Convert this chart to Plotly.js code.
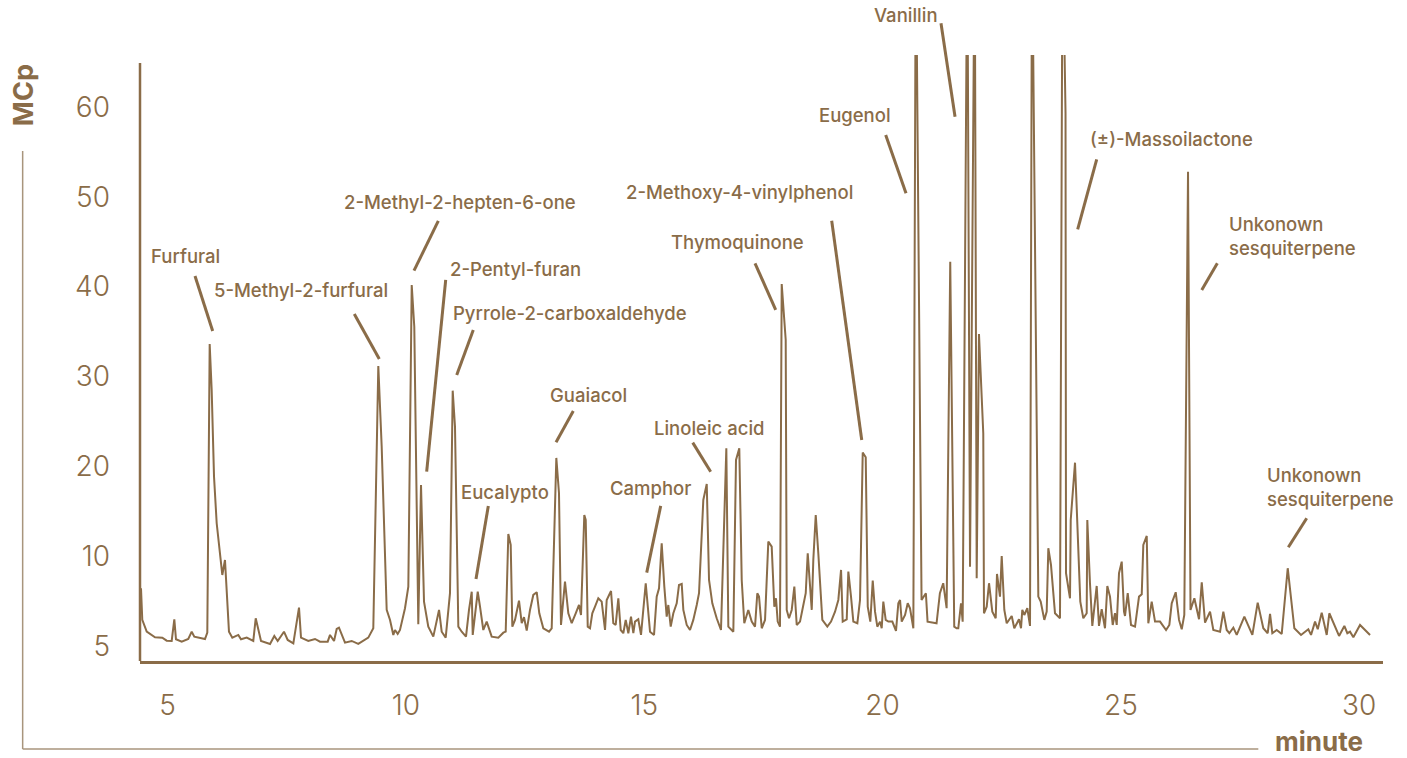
<!DOCTYPE html>
<html>
<head>
<meta charset="utf-8">
<script src="https://cdn.plot.ly/plotly-3.0.1.min.js"></script>
<style>html,body{margin:0;padding:0;background:#fff;}#chart{width:1407px;height:758px;}</style>
</head>
<body>
<div id="chart"></div>
<script>
// Retention time (minutes)
const minutes = [
4.441,4.468,4.561,4.735,4.888,4.980,5.085,5.140,5.175,5.295,5.433,5.505,5.559,5.679,5.784,5.832,5.882,5.924,5.973,6.029,
6.147,6.203,6.287,6.357,6.483,6.539,6.659,6.797,6.848,6.959,7.148,7.238,7.309,7.441,7.519,7.637,7.756,7.798,7.951,8.092,
8.197,8.358,8.407,8.491,8.547,8.595,8.686,8.721,8.862,9.000,9.210,9.315,9.420,9.491,9.596,9.666,9.735,9.770,9.827,9.875,
9.980,10.050,10.121,10.175,10.259,10.316,10.379,10.469,10.574,10.694,10.750,10.834,10.924,10.981,11.029,11.099,11.170,11.260,11.323,11.380,
11.401,11.449,11.506,11.554,11.623,11.694,11.799,11.938,12.043,12.093,12.148,12.198,12.232,12.288,12.372,12.429,12.477,12.534,12.603,12.672,
12.744,12.798,12.882,13.002,13.058,13.155,13.211,13.253,13.337,13.407,13.478,13.562,13.631,13.673,13.742,13.772,13.814,13.862,13.910,13.967,
14.036,14.107,14.177,14.212,14.246,14.303,14.351,14.401,14.456,14.506,14.561,14.611,14.666,14.722,14.771,14.806,14.875,14.932,15.031,15.121,
15.205,15.261,15.310,15.366,15.421,15.471,15.505,15.555,15.610,15.681,15.729,15.786,15.820,15.891,15.960,16.029,16.101,16.149,16.239,16.311,
16.359,16.428,16.520,16.610,16.722,16.764,16.869,16.925,16.994,17.045,17.099,17.183,17.255,17.324,17.372,17.408,17.465,17.534,17.603,17.674,
17.729,17.764,17.800,17.848,17.884,17.968,17.989,18.037,18.094,18.149,18.199,18.268,18.317,18.388,18.430,18.478,18.514,18.547,18.598,18.652,
18.736,18.841,18.919,19.003,19.072,19.129,19.164,19.248,19.282,19.338,19.387,19.471,19.527,19.584,19.647,19.689,19.743,19.794,19.842,19.890,
19.947,19.982,20.016,20.066,20.121,20.205,20.282,20.331,20.367,20.402,20.472,20.528,20.576,20.646,20.698,20.818,20.873,20.909,20.944,21.028,
21.133,21.203,21.273,21.344,21.420,21.504,21.554,21.589,21.646,21.681,21.778,21.835,21.933,21.975,22.023,22.113,22.128,22.185,22.234,22.303,
22.374,22.401,22.464,22.500,22.555,22.605,22.710,22.764,22.863,22.905,22.932,22.974,23.037,23.094,23.136,23.268,23.318,23.394,23.444,23.478,
23.534,23.618,23.723,23.776,23.839,23.849,23.933,23.948,24.038,24.149,24.212,24.283,24.296,24.352,24.401,24.493,24.541,24.598,24.667,24.716,
24.772,24.829,24.877,24.913,24.961,25.018,25.066,25.087,25.144,25.213,25.297,25.381,25.438,25.471,25.543,25.576,25.647,25.717,25.822,25.948,
26.017,26.067,26.151,26.220,26.277,26.331,26.377,26.409,26.440,26.461,26.542,26.640,26.697,26.766,26.871,26.940,27.081,27.150,27.221,27.276,
27.360,27.431,27.591,27.759,27.871,27.989,28.081,28.130,28.178,28.270,28.375,28.501,28.640,28.780,28.933,28.990,29.074,29.131,29.214,29.319,
29.374,29.578,29.689,29.752,29.808,29.878,30.018,30.228
];
// Detector signal (MCp); off-scale peaks are clipped by the axis range
const signal = [
6.45,2.93,1.62,1.00,0.96,0.62,0.59,3.00,0.78,0.51,0.81,1.62,1.07,0.89,0.81,1.51,33.63,28.51,18.87,13.68,
7.93,9.60,1.62,0.96,1.26,0.78,0.96,0.59,3.11,0.59,0.26,1.15,0.59,1.62,0.70,0.33,4.29,0.96,0.59,0.81,
0.51,0.51,1.26,0.59,1.92,2.07,0.70,0.40,0.59,0.26,0.96,2.00,31.18,22.20,4.04,2.93,1.26,1.81,1.37,1.81,
4.23,6.63,40.19,35.55,2.45,17.94,4.96,2.18,1.07,4.04,1.62,0.96,5.90,28.43,24.43,2.18,1.62,1.07,4.04,6.07,
1.26,3.67,6.07,4.40,1.81,2.74,1.07,0.96,1.51,1.62,12.49,11.27,2.18,2.93,5.07,2.56,3.23,1.74,4.04,5.71,
6.01,3.67,2.00,1.62,2.00,20.95,17.02,2.37,7.19,3.67,2.56,3.67,4.59,3.48,14.60,14.05,2.18,2.00,3.67,4.40,
5.34,4.96,1.81,5.15,5.52,6.15,2.56,2.37,5.34,1.81,1.45,2.93,1.45,3.29,1.45,2.74,3.00,1.26,7.01,1.62,
1.26,5.52,6.45,11.46,6.63,3.29,4.59,2.18,3.67,4.78,6.82,6.93,4.04,2.37,1.81,2.93,4.59,5.90,16.27,18.05,
7.37,4.78,3.11,1.81,22.02,2.18,1.62,20.72,22.02,7.37,2.56,4.04,2.74,2.18,5.90,5.52,2.00,2.93,11.64,11.08,
4.40,5.34,2.74,2.18,40.30,34.07,4.04,3.11,4.04,6.63,2.37,2.74,4.04,5.90,10.34,5.90,4.04,9.60,14.60,10.34,
2.93,2.18,2.74,3.85,5.15,8.49,2.74,3.00,8.30,5.52,2.74,2.56,5.15,21.54,21.02,4.40,2.74,7.30,3.85,2.18,
2.74,2.00,4.96,2.93,2.74,2.74,1.70,4.78,5.15,2.74,3.48,4.78,4.23,2.00,80.0,5.15,5.71,5.90,2.74,2.63,
2.56,5.90,7.01,4.23,42.78,2.18,2.00,2.00,4.78,2.74,80.0,8.85,80.0,7.56,34.74,23.69,3.67,4.40,7.01,3.85,
3.11,8.04,5.52,10.04,4.04,2.56,3.37,2.00,3.00,2.00,4.04,3.48,4.23,2.26,80.0,5.52,4.96,2.93,3.85,10.90,
9.04,3.67,3.11,80.0,59.29,8.12,5.34,14.05,20.42,4.96,3.11,3.67,14.05,7.01,2.26,6.71,2.26,4.12,2.00,6.71,
5.52,2.37,3.67,2.37,8.12,9.41,3.85,3.37,5.90,2.37,2.18,5.52,5.78,11.27,12.27,2.56,4.96,2.74,2.74,1.81,
2.37,4.78,6.01,2.93,1.89,3.48,36.30,52.79,24.06,4.04,5.34,3.00,7.12,2.63,3.85,1.81,1.62,3.85,1.81,1.45,
2.07,1.26,3.29,1.26,4.85,2.00,1.45,3.59,1.45,1.81,1.37,8.68,2.00,1.26,1.89,1.26,2.74,1.89,3.74,1.26,
3.67,1.15,2.26,1.45,1.62,1.00,2.37,1.26
];
// Axis ticks
const xTickVals = [5, 10, 15, 20, 25, 30];
const yTickVals = [0, 10, 20, 30, 40, 50, 60];
const yTickText = ['5', '10', '20', '30', '40', '50', '60'];
// Compound labels: text, label anchor (time, signal), leader line from/to (time, signal)
const labelNames = ['Furfural', '5-Methyl-2-furfural', '2-Methyl-2-hepten-6-one', '2-Pentyl-furan',
  'Pyrrole-2-carboxaldehyde', 'Eucalypto', 'Guaiacol', 'Camphor', 'Linoleic acid', 'Thymoquinone',
  '2-Methoxy-4-vinylphenol', 'Eugenol', '(±)-Massoilactone', 'Unkonown<br>sesquiterpene', 'Unkonown<br>sesquiterpene'];
const labelX = [4.60, 5.93, 8.66, 10.88, 10.94, 11.11, 12.98, 14.24, 15.16, 15.52, 14.575, 18.625, 24.31, 27.22, 28.025];
const labelY = [43.42, 39.63, 49.42, 41.97, 37.07, 17.16, 27.95, 17.61, 24.28, 44.97, 50.53, 59.10, 56.45, 45.64, 17.72];
const leadX0 = [5.574, 8.916, 10.679, 10.834, 11.413, 11.728, 13.511, 15.345, 16.017, 17.324, 18.933, 20.066, 24.493, 27.024, 28.899];
const leadY0 = [41.19, 36.96, 47.31, 40.75, 35.18, 15.61, 26.17, 15.61, 22.65, 42.60, 47.34, 56.87, 54.17, 42.60, 14.24];
const leadX1 = [5.945, 9.441, 10.169, 10.435, 11.065, 11.470, 13.149, 15.052, 16.394, 17.758, 19.563, 20.492, 24.094, 26.697, 28.513];
const leadY1 = [35.07, 31.96, 41.78, 19.42, 30.18, 7.49, 22.69, 8.19, 19.42, 37.41, 22.95, 50.39, 46.38, 39.63, 11.01];
// Vanillin label sits above the plot top, so it is placed in paper units
const vanillinLabel = {text: 'Vanillin', x: 0.5885, y: 1.066, lx0: 0.6444, ly0: 1.0523, lx1: 0.6557, ly1: 0.8982};

const BROWN = '#8a6c48';
const LIGHT = '#a8957c';
const FONT = 'Inter, "Noto Sans", sans-serif';
const LABEL_SIZE = 18.5;

const annotations = labelNames.map((t, i) => ({
  text: t, x: labelX[i], y: labelY[i], xref: 'x', yref: 'y',
  xanchor: 'left', yanchor: 'middle', align: 'left', showarrow: false,
  font: {family: FONT, size: LABEL_SIZE, color: BROWN, weight: 500}
}));
annotations.push({
  text: vanillinLabel.text, x: vanillinLabel.x, y: vanillinLabel.y, xref: 'paper', yref: 'paper',
  xanchor: 'left', yanchor: 'middle', showarrow: false,
  font: {family: FONT, size: LABEL_SIZE, color: BROWN, weight: 500}
});
annotations.push({
  text: 'MCp', x: -0.0937, y: 0.933, xref: 'paper', yref: 'paper', textangle: -90,
  xanchor: 'center', yanchor: 'middle', showarrow: false,
  font: {family: FONT, size: 27, color: BROWN, weight: 700}
});
annotations.push({
  text: 'minute', x: 0.9489, y: -0.16, xref: 'paper', yref: 'paper',
  xanchor: 'center', yanchor: 'bottom', showarrow: false, borderpad: 0,
  font: {family: FONT, size: 26, color: BROWN, weight: 700}
});

const shapes = labelNames.map((t, i) => ({
  type: 'line', xref: 'x', yref: 'y',
  x0: leadX0[i], y0: leadY0[i], x1: leadX1[i], y1: leadY1[i],
  line: {color: BROWN, width: 3}
}));
shapes.push({type: 'line', xref: 'paper', yref: 'paper',
  x0: vanillinLabel.lx0, y0: vanillinLabel.ly0, x1: vanillinLabel.lx1, y1: vanillinLabel.ly1,
  line: {color: BROWN, width: 3}});
// y axis line (shorter than plot area)
shapes.push({type: 'line', xref: 'paper', yref: 'paper', x0: 0, x1: 0, y0: 0, y1: 0.9868,
  line: {color: BROWN, width: 2.5}});
// outer decorative frame lines
shapes.push({type: 'line', xref: 'paper', yref: 'paper', x0: -0.0944, x1: -0.0944, y0: -0.1452, y1: 0.8416,
  line: {color: LIGHT, width: 1.5}});
shapes.push({type: 'line', xref: 'paper', yref: 'paper', x0: -0.0944, x1: 0.8997, y0: -0.1452, y1: -0.1452,
  line: {color: LIGHT, width: 1.5}});

const trace = {
  x: minutes, y: signal, type: 'scatter', mode: 'lines',
  line: {color: BROWN, width: 2}, hoverinfo: 'x+y'
};

const layout = {
  width: 1407, height: 758,
  margin: {l: 140, r: 24, t: 55, b: 97},
  paper_bgcolor: '#ffffff', plot_bgcolor: '#ffffff',
  showlegend: false,
  font: {family: FONT, color: BROWN},
  xaxis: {
    range: [4.42, 30.5], tickvals: xTickVals, showgrid: false, zeroline: false,
    showline: true, linecolor: BROWN, linewidth: 2.5, ticks: '', ticklabelstandoff: 18,
    tickfont: {family: FONT, size: 28, color: BROWN, weight: 300}
  },
  yaxis: {
    range: [-1.64, 65.77], tickvals: yTickVals, ticktext: yTickText, showgrid: false, zeroline: false,
    showline: false, ticks: '', ticklabelstandoff: 29,
    tickfont: {family: FONT, size: 28, color: BROWN, weight: 300}
  },
  annotations: annotations,
  shapes: shapes
};

Plotly.newPlot('chart', [trace], layout, {displayModeBar: false, staticPlot: true});
</script>
</body>
</html>
